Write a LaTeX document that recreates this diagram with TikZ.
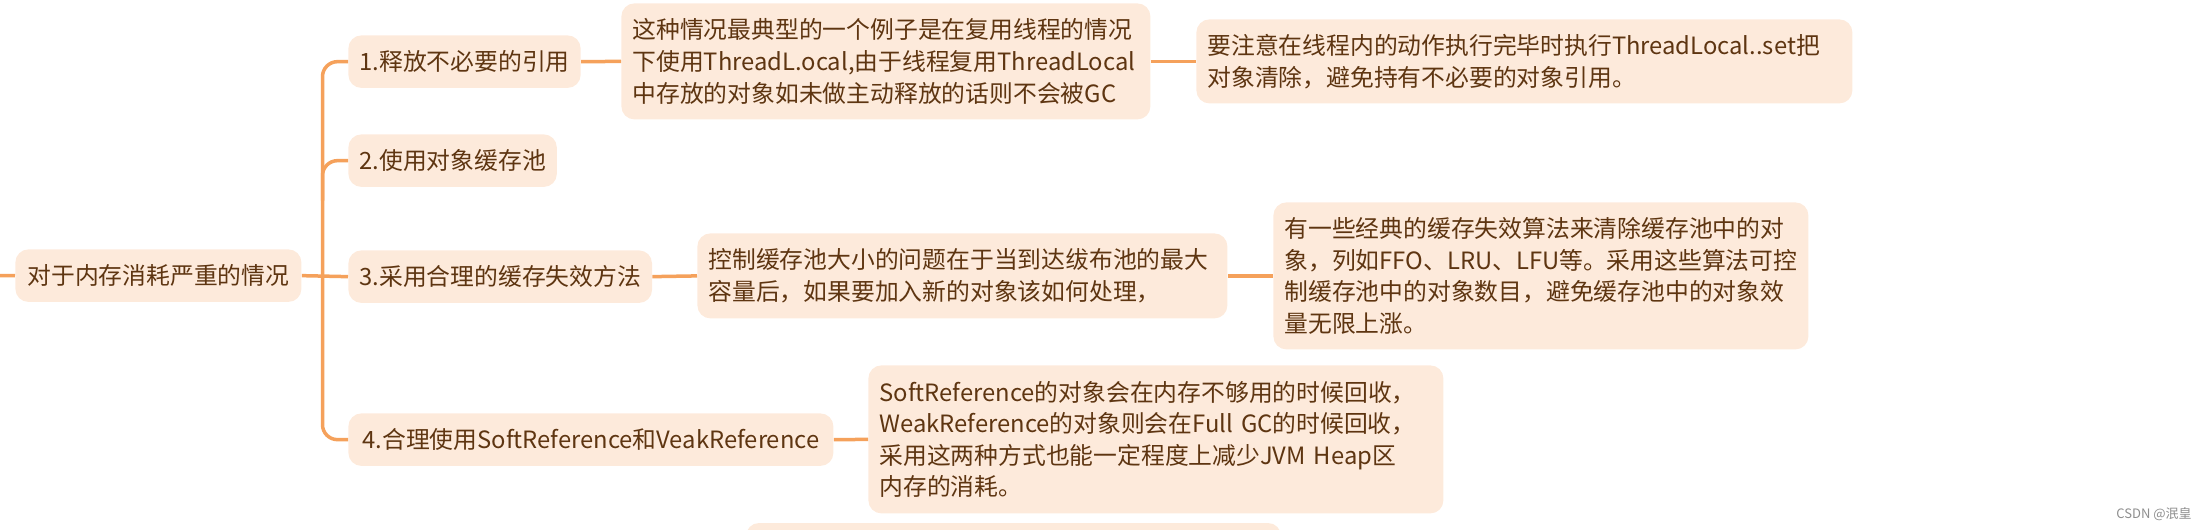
\documentclass[tikz,border=0pt]{standalone}
\usepackage{fontspec}
\setmainfont{Noto Sans CJK SC}
\definecolor{boxfill}{HTML}{FDEADB}
\definecolor{txt}{HTML}{5E3511}
\definecolor{linec}{HTML}{F5A15B}
\definecolor{wmc}{HTML}{8E8E8E}
\begin{document}
\begin{tikzpicture}[x=0.5pt,y=-0.5pt,
  box/.style={fill=boxfill, rounded corners=6.5pt, text=txt, inner xsep=5.5pt, inner ysep=0pt,
    font=\fontsize{11.9}{15.8}\selectfont, anchor=north west},
  sbox/.style={box, minimum height=26.25pt},
  mbox/.style={box, align=left},
  conn/.style={draw=linec, line width=1.75pt},
  rconn/.style={conn, rounded corners=7.5pt}]
\useasboundingbox (0,0) rectangle (2206,530);
% partial box cut off at the bottom edge
\fill[boxfill, rounded corners=6.5pt] (746,523) rectangle (1281,590);
% nodes
\node[sbox, minimum width=143pt] (root) at (15,249) {对于内存消耗严重的情况};
\node[sbox, minimum width=113.5pt] (b1) at (348,35) {1.释放不必要的引用};
\node[sbox, minimum width=104pt] (b2) at (348,134) {2.使用对象缓存池};
\node[sbox, minimum width=151.5pt] (b3) at (348,250) {3.采用合理的缓存失效方法};
\node[sbox, minimum width=242.5pt] (b4) at (348,413) {4.合理使用SoftReference和VeakReference};
\node[mbox, text width=253.5pt, minimum height=58pt] (b1a) at (621,3)
  {这种情况最典型的一个例子是在复用线程的情况\\下使用ThreadL.ocal,由于线程复用ThreadLocal\\中存放的对象如未做主动释放的话则不会被GC};
\node[mbox, text width=317pt, minimum height=42pt] (b1b) at (1196,19)
  {要注意在线程内的动作执行完毕时执行ThreadLocal..set把\\对象清除，避免持有不必要的对象引用。};
\node[mbox, text width=254pt, minimum height=42.5pt] (b3a) at (697,233)
  {控制缓存池大小的问题在于当到达绂布池的最大\\容量后，如果要加入新的对象该如何处理，};
\node[mbox, text width=256.5pt, minimum height=73.5pt] (b3b) at (1273,202)
  {有一些经典的缓存失效算法来清除缓存池中的对\\象，列如FFO、LRU、LFU等。采用这些算法可控\\制缓存池中的对象数目，避免缓存池中的对象效\\量无限上涨。};
\node[mbox, text width=276.5pt, minimum height=74pt] (b4a) at (868,365)
  {SoftReference的对象会在内存不够用的时候回收，\\WeakReference的对象则会在Full~GC的时候回收，\\采用这两种方式也能一定程度上减少JVM~Heap区\\内存的消耗。};
\node[font=\fontsize{6.5}{8}\selectfont, text=wmc, anchor=east, inner sep=0pt] (wm) at (2192,514) {CSDN @泯皇};
% connectors
\coordinate (stub) at (0,275.5);
\draw[conn] (stub) -- (root.west);
\draw[conn] (root.east) -- (b3.west);
\draw[rconn] (b1.west) -- ++(-25.5,0) |- (b4.west);
\draw[rconn] (b2.west) -- ++(-25.5,0) -- ++(0,40);
\draw[conn] (b1.east) -- (b1a.west);
\draw[conn] (b1a.east) -- (b1b.west);
\draw[conn] (b3.east) -- (b3a.west);
\draw[conn] (b3a.east) -- (b3b.west);
\draw[conn] (b4.east) -- (b4a.west);
\end{tikzpicture}
\end{document}
